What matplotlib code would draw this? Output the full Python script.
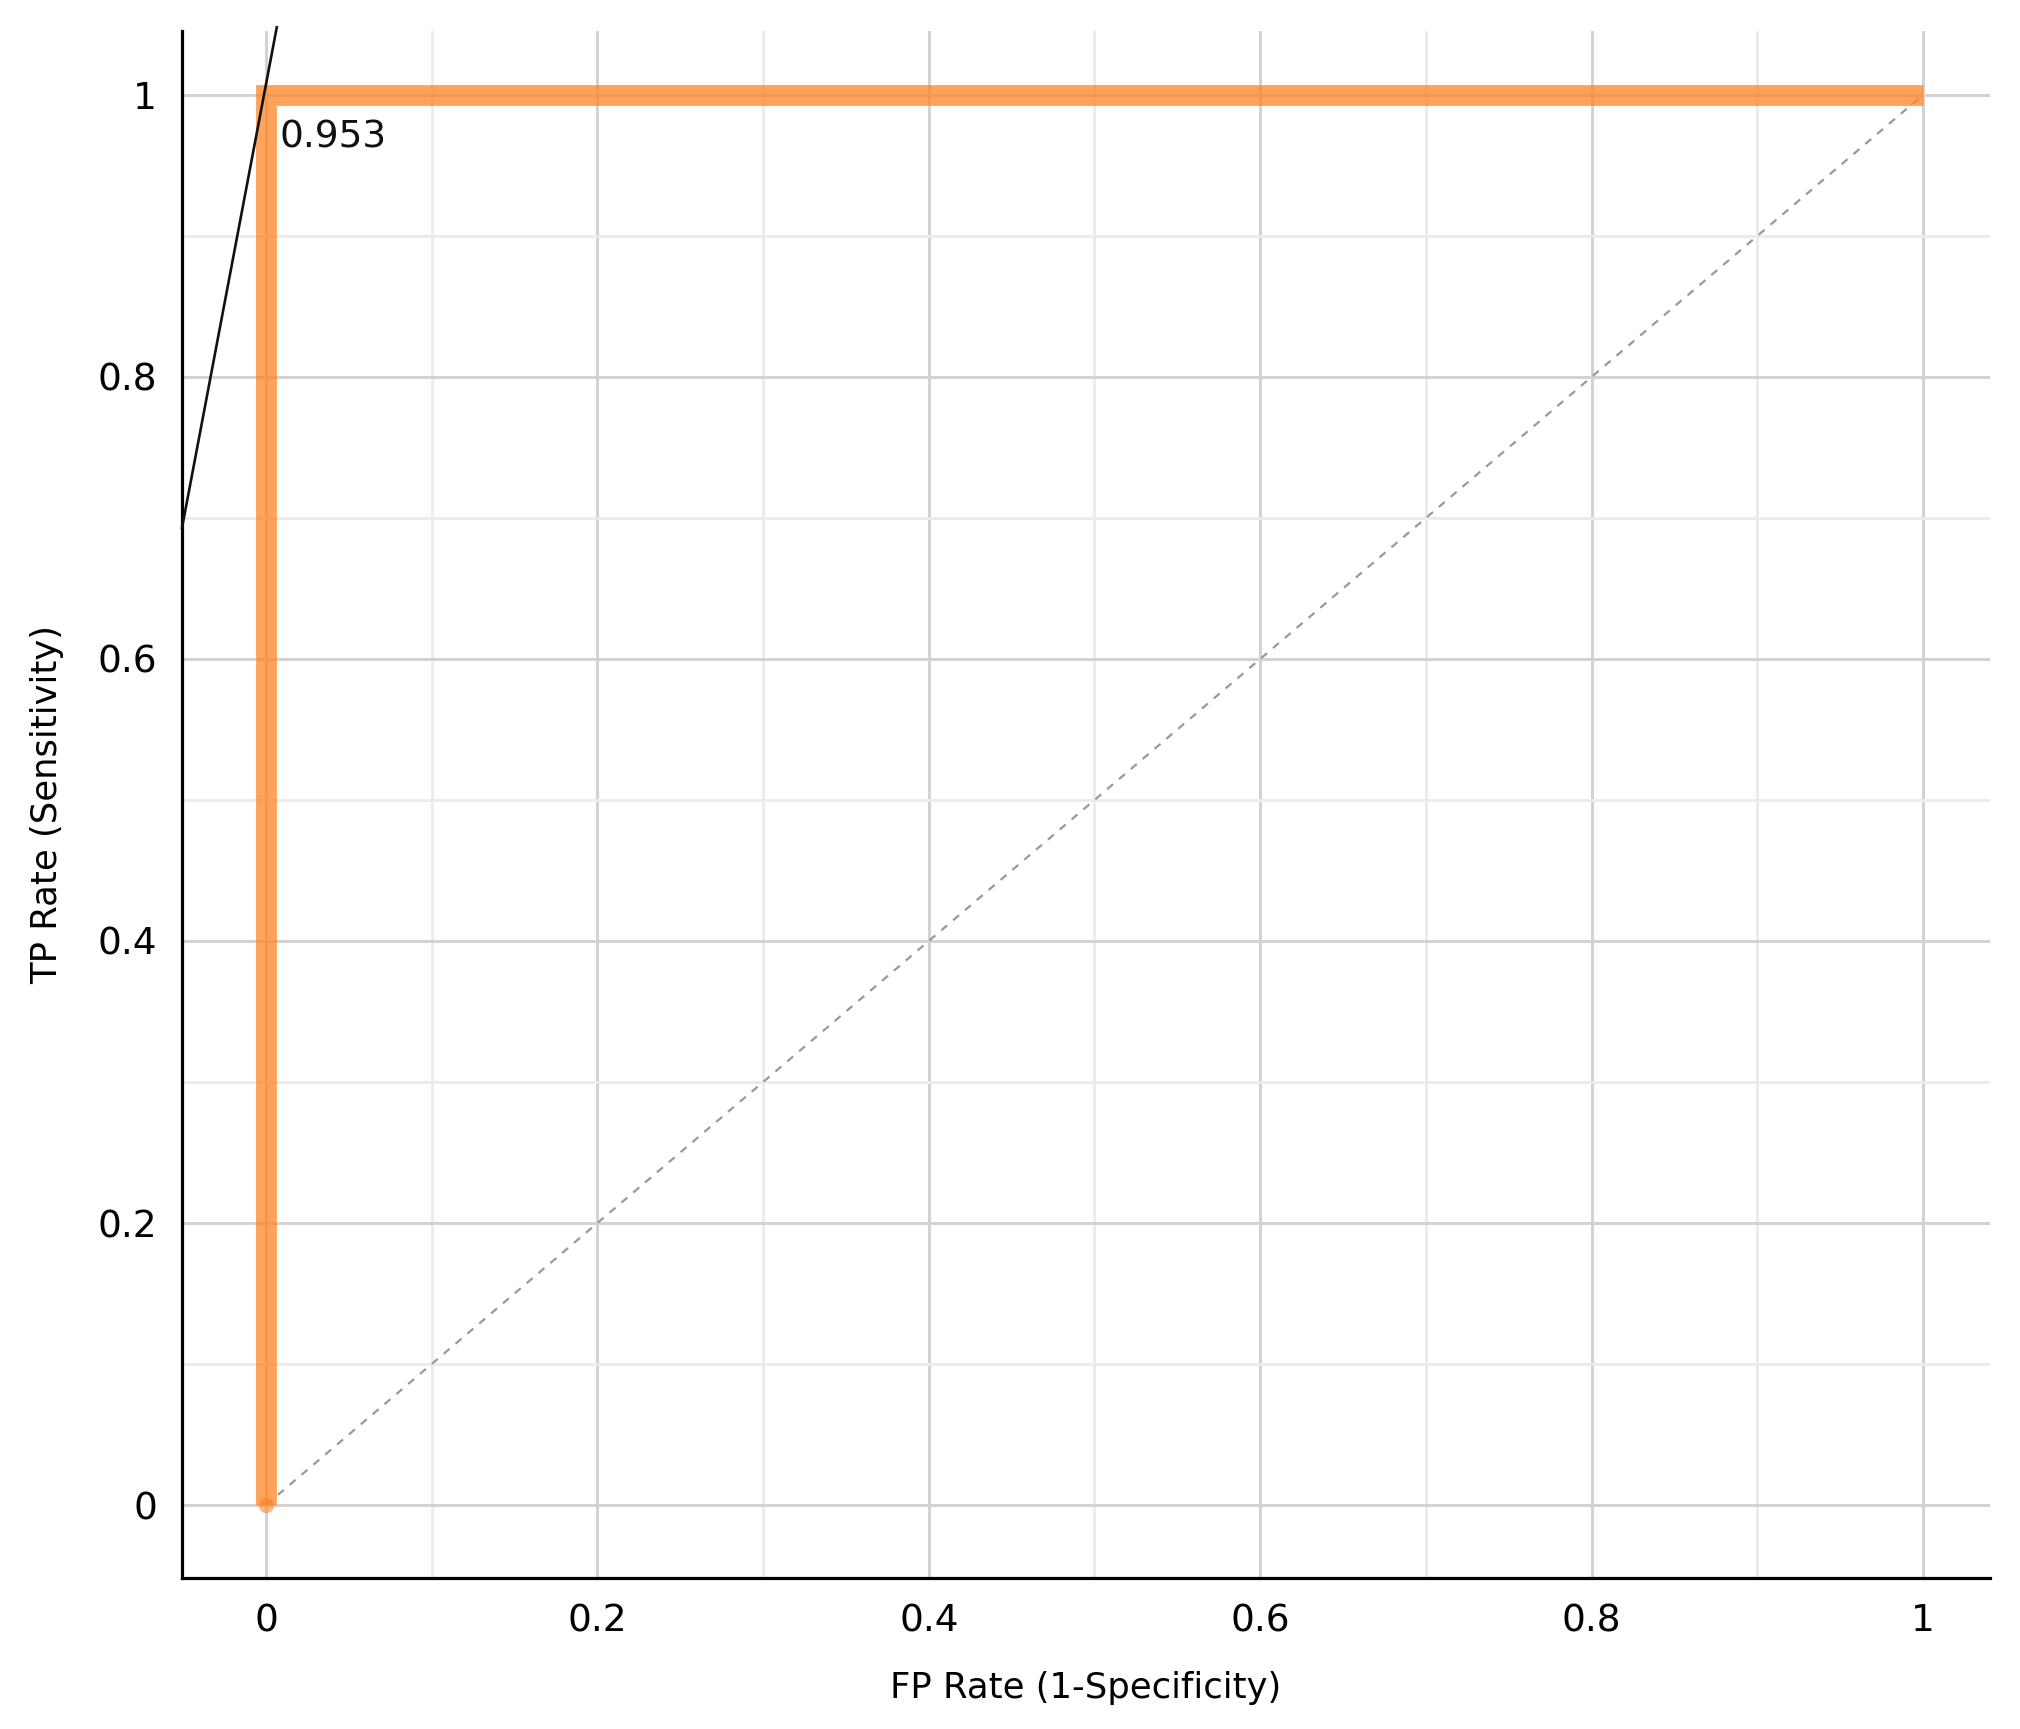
import matplotlib
matplotlib.use("Agg")
import matplotlib.pyplot as plt
from matplotlib.ticker import MultipleLocator, FuncFormatter

# ROC curve data
fpr = [0.0, 0.0, 1.0]
tpr = [0.0, 1.0, 1.0]
auc_label = "0.953"
label_pos = (0.008, 0.97)

# chance diagonal
diag_x = [0.0, 1.0]
diag_y = [0.0, 1.0]

# iso-performance line (black)
iso_x = [-0.0507, 0.0065]
iso_y = [0.693, 1.048]

x_ticks = [0, 0.2, 0.4, 0.6, 0.8, 1]
y_ticks = [0, 0.2, 0.4, 0.6, 0.8, 1]

fig = plt.figure(figsize=(20.2, 17.29), dpi=100)
ax = fig.add_axes([0.0901, 0.0873, 0.8950, 0.8948])

ax.set_xlim(-0.0507, 1.0404)
ax.set_ylim(-0.0518, 1.0454)

ax.xaxis.set_minor_locator(MultipleLocator(0.1))
ax.yaxis.set_minor_locator(MultipleLocator(0.1))

fmt = FuncFormatter(lambda v, p: "%d" % round(v) if abs(v - round(v)) < 1e-9 else ("%.1f" % v))
ax.set_xticks(x_ticks)
ax.set_yticks(y_ticks)
ax.xaxis.set_major_formatter(fmt)
ax.yaxis.set_major_formatter(fmt)

ax.grid(True, which="major", color="#d2d2d2", linewidth=2.1, zorder=1)
ax.grid(True, which="minor", color="#ececec", linewidth=2.1, zorder=1)
ax.set_axisbelow(True)

ax.tick_params(which="both", length=0, labelsize=27, pad=18)

for s in ["top", "right"]:
    ax.spines[s].set_visible(False)
for s in ["left", "bottom"]:
    ax.spines[s].set_linewidth(2.3)
    ax.spines[s].set_color("black")

# diagonal
ax.plot(diag_x, diag_y, color="#999999", linewidth=1.6, linestyle=(0, (3.5, 3.5)), zorder=2)

# ROC curve
ax.plot(fpr, tpr, color="#FF8323", alpha=0.75, linewidth=15,
        solid_capstyle="butt", solid_joinstyle="miter", zorder=3)
ax.plot([fpr[0]], [tpr[0]], marker="o", markersize=11, color="#FF8323", alpha=0.6,
        markeredgewidth=0, zorder=3)

# iso line
ax.plot(iso_x, iso_y, color="#111111", linewidth=1.9, zorder=4, clip_on=False)

ax.text(label_pos[0], label_pos[1], auc_label, fontsize=27, ha="left", va="center",
        color="#111111", zorder=5)

ax.set_xlabel("FP Rate (1-Specificity)", fontsize=25.5, labelpad=23)
ax.set_ylabel("TP Rate (Sensitivity)", fontsize=25.5, labelpad=24)

fig.savefig("out.png", dpi=100, facecolor="white")
